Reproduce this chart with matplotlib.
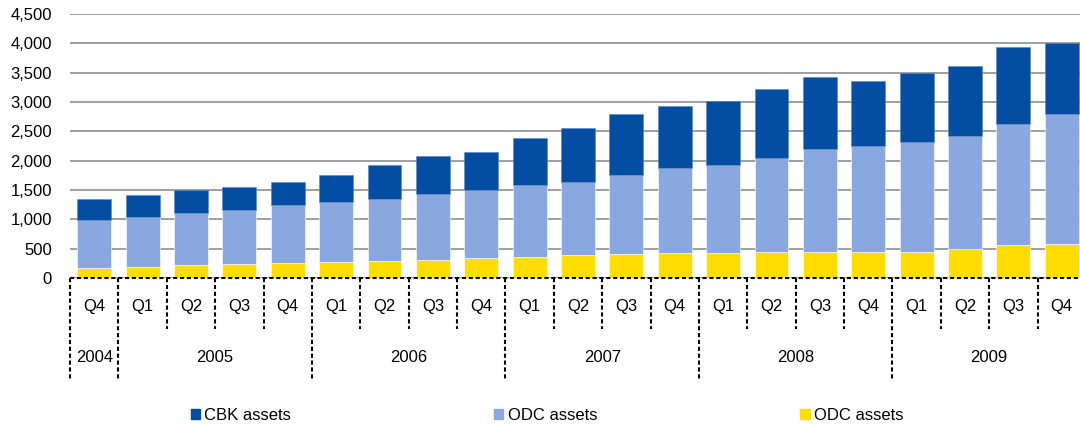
import numpy as np
import matplotlib
matplotlib.use("Agg")
import matplotlib.pyplot as plt

plt.rcParams['font.family'] = ['Liberation Sans', 'DejaVu Sans']

quarters = ['Q4', 'Q1', 'Q2', 'Q3', 'Q4', 'Q1', 'Q2', 'Q3', 'Q4', 'Q1', 'Q2',
            'Q3', 'Q4', 'Q1', 'Q2', 'Q3', 'Q4', 'Q1', 'Q2', 'Q3', 'Q4']
years = ['2004', '2005', '2006', '2007', '2008', '2009']
year_counts = [1, 4, 4, 4, 4, 4]

# cumulative levels
odc_yellow = [171, 190, 217, 234, 251, 268, 285, 314, 337, 365, 399,
              410, 434, 422, 451, 451, 439, 451, 496, 559, 581]
odc_total = [986, 1032, 1106, 1162, 1242, 1293, 1340, 1436, 1499, 1589, 1635,
             1760, 1875, 1926, 2051, 2199, 2251, 2313, 2427, 2627, 2798]
all_total = [1340, 1408, 1499, 1555, 1635, 1760, 1931, 2075, 2148, 2393, 2553,
             2792, 2934, 3020, 3220, 3430, 3361, 3493, 3612, 3937, 3999]

yellow = np.array(odc_yellow)
light = np.array(odc_total) - yellow
dark = np.array(all_total) - np.array(odc_total)

c_dark = '#034ea2'
c_light = '#8aa8e0'
c_yellow = '#ffdd00'
fs = 12

fig = plt.figure(figsize=(10.8, 4.28), dpi=100)
ax = fig.add_axes([70 / 1080, 150 / 428, 1016 / 1080, 264 / 428])

x = np.arange(len(quarters))
w = 0.7
ax.bar(x, yellow, w, color=c_yellow, edgecolor='white', linewidth=0.4, zorder=3)
ax.bar(x, light, w, bottom=yellow, color=c_light, edgecolor='white', linewidth=0.4, zorder=3)
ax.bar(x, dark, w, bottom=yellow + light, color=c_dark, edgecolor='#5b82c4', linewidth=0.4, zorder=3)

ax.set_xlim(-0.5, len(quarters) - 0.5)
ax.set_ylim(0, 4500)
ax.set_yticks(np.arange(0, 4501, 500))
ax.set_yticklabels([f'{v:,}' for v in range(0, 4501, 500)], fontsize=fs)
ax.tick_params(axis='y', length=0, pad=13)
ax.set_xticks([])
for s in ax.spines.values():
    s.set_visible(False)
ax.yaxis.grid(True, color='#858585', linewidth=1.1)
ax.set_axisbelow(True)

dash = (0, (2, 1.3))
ax.axhline(0, color='black', linewidth=1.5, linestyle=dash, zorder=4, clip_on=False)

# category axis: quarters and years
trans = ax.get_xaxis_transform()
for i, q in enumerate(quarters):
    ax.text(i, -0.109, q, transform=trans, ha='center', va='center', fontsize=fs)

bounds = np.cumsum([0] + year_counts)
for b in range(len(quarters) + 1):
    low = -0.386 if b in bounds else -0.193
    ax.plot([b - 0.5, b - 0.5], [0, low], transform=trans, color='black',
            linewidth=1.5, linestyle=dash, clip_on=False)
for yr, start, n in zip(years, bounds[:-1], year_counts):
    ax.text(start + n / 2 - 0.5, -0.303, yr, transform=trans, ha='center',
            va='center', fontsize=fs)

handles = [plt.Rectangle((0, 0), 1, 1, color=c) for c in (c_dark, c_light, c_yellow)]
fig.legend(handles, ['CBK assets', 'ODC assets', 'ODC assets'], loc='center',
           bbox_to_anchor=(547 / 1080, 13 / 428), ncol=3, frameon=False,
           fontsize=fs, handlelength=0.55, handleheight=0.55, handletextpad=0.25,
           columnspacing=12.2)

fig.savefig('out.png', dpi=100)
